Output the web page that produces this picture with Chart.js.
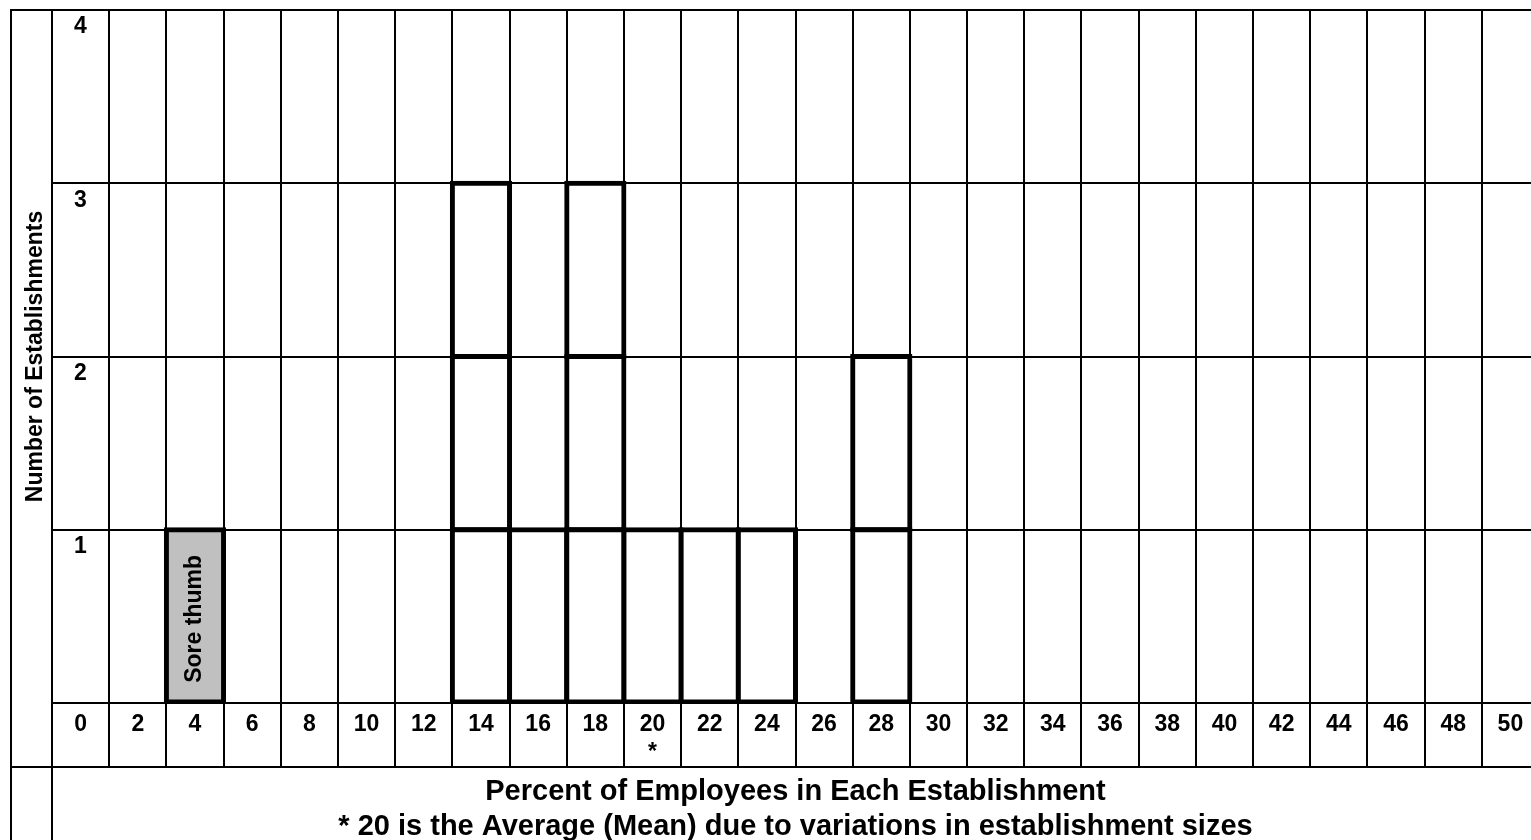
<!DOCTYPE html>
<html>
<head>
<meta charset="utf-8">
<title>Percent of Employees in Each Establishment</title>
<script src="https://cdn.jsdelivr.net/npm/chart.js@4.4.1/dist/chart.umd.min.js"></script>
<style>
  html, body { margin: 0; padding: 0; background: #fff; overflow: hidden; }
  #wrap { width: 1540px; height: 850px; }
</style>
</head>
<body>
<div id="wrap"><canvas id="grafico" width="1540" height="850"></canvas></div>
<script>
const percentuais = [0, 2, 4, 6, 8, 10, 12, 14, 16, 18, 20, 22, 24, 26, 28, 30, 32, 34, 36, 38, 40, 42, 44, 46, 48, 50]
const estabelecimentos = [0, 0, 1, 0, 0, 0, 0, 3, 1, 3, 1, 1, 1, 0, 2, 0, 0, 0, 0, 0, 0, 0, 0, 0, 0, 0]
const escalaY = [0, 1, 2, 3, 4]
const media = 20
const foraDaCurva = 4
const rotuloForaDaCurva = 'Sore thumb'
const tituloX = ['Percent of Employees in Each Establishment', '* 20 is the Average (Mean) due to variations in establishment sizes']
const tituloY = 'Number of Establishments'

const fonte = 'Arial, "Liberation Sans", sans-serif'
const preto = '#000000'

// cada estabelecimento vira uma caixa empilhada
const niveis = Array.from({ length: Math.max(...estabelecimentos) }, (_, i) => i + 1)
const conjuntos = niveis.map(nivel => ({
  label: 'Nivel ' + nivel,
  data: estabelecimentos.map(qtd => qtd >= nivel ? 1 : null),
  backgroundColor: percentuais.map(p => (nivel === 1 && p === foraDaCurva) ? '#c0c0c0' : '#ffffff'),
  borderColor: preto,
  borderWidth: 5,
  borderSkipped: false,
  inflateAmount: 2.5,
  barPercentage: 1,
  categoryPercentage: 1
}))

const moldura = {
  id: 'moldura',
  afterDraw(grafico) {
    const { ctx, chartArea, scales: { x } } = grafico
    const linhaTitulo = x.top + x.options.grid.tickLength
    ctx.save()
    ctx.strokeStyle = preto
    ctx.lineWidth = 2
    ctx.beginPath()
    ctx.moveTo(11, 10)
    ctx.lineTo(11, grafico.height)
    ctx.moveTo(10, 10)
    ctx.lineTo(grafico.width, 10)
    ctx.moveTo(10, linhaTitulo)
    ctx.lineTo(grafico.width, linhaTitulo)
    ctx.moveTo(chartArea.left, x.top)
    ctx.lineTo(chartArea.left, grafico.height)
    ctx.stroke()
    ctx.restore()
  }
}

const rotuloDestaque = {
  id: 'rotuloDestaque',
  afterDatasetsDraw(grafico) {
    const indice = percentuais.indexOf(foraDaCurva)
    const barra = grafico.getDatasetMeta(0).data[indice]
    if (!barra) return
    const { ctx } = grafico
    ctx.save()
    ctx.translate(barra.x, (barra.y + barra.base) / 2 + 3)
    ctx.rotate(-Math.PI / 2)
    ctx.font = 'bold 23px ' + fonte
    ctx.fillStyle = preto
    ctx.textAlign = 'center'
    ctx.textBaseline = 'middle'
    ctx.fillText(rotuloForaDaCurva, 0, 0)
    ctx.restore()
  }
}

const grafico = new Chart(document.querySelector('#grafico'), {
  type: 'bar',
  data: {
    labels: percentuais.map(String),
    datasets: conjuntos
  },
  options: {
    responsive: false,
    animation: false,
    layout: { padding: { left: 10, top: 10, right: 1, bottom: 0 } },
    plugins: {
      legend: { display: false },
      tooltip: { enabled: false }
    },
    scales: {
      x: {
        stacked: true,
        offset: true,
        ticks: {
          autoSkip: false,
          maxRotation: 0,
          padding: -56,
          color: preto,
          font: { family: fonte, size: 23, weight: 'bold' },
          callback: (valor, i) => percentuais[i] === media ? [String(percentuais[i]), '*'] : String(percentuais[i])
        },
        grid: { offset: true, color: preto, lineWidth: 2, tickLength: 64, tickColor: preto, tickWidth: 2 },
        border: { color: preto, width: 2 },
        title: {
          display: true,
          text: tituloX,
          color: preto,
          font: { family: fonte, size: 29, weight: 'bold', lineHeight: 1.2 },
          padding: { top: 0, bottom: 6 }
        },
        afterFit: eixo => {
          eixo.height = 147
          eixo.paddingLeft = 0
          eixo.paddingRight = 0
        }
      },
      y: {
        stacked: true,
        min: escalaY[0],
        max: escalaY[escalaY.length - 1],
        afterBuildTicks: eixo => { eixo.ticks = escalaY.map(v => ({ value: v })) },
        ticks: {
          mirror: true,
          padding: 22,
          labelOffset: 17,
          color: preto,
          font: { family: fonte, size: 23, weight: 'bold' },
          callback: v => v === 0 ? '' : String(v)
        },
        grid: { color: preto, lineWidth: 2, drawTicks: false },
        border: { color: preto, width: 2 },
        title: {
          display: true,
          text: tituloY,
          color: preto,
          font: { family: fonte, size: 23, weight: 'bold', lineHeight: 1.2 },
          padding: { top: 12, bottom: 0 }
        },
        afterFit: eixo => {
          eixo.width = 42
          eixo.paddingTop = 0
          eixo.paddingBottom = 0
        }
      }
    }
  },
  plugins: [moldura, rotuloDestaque]
})
</script>
</body>
</html>
